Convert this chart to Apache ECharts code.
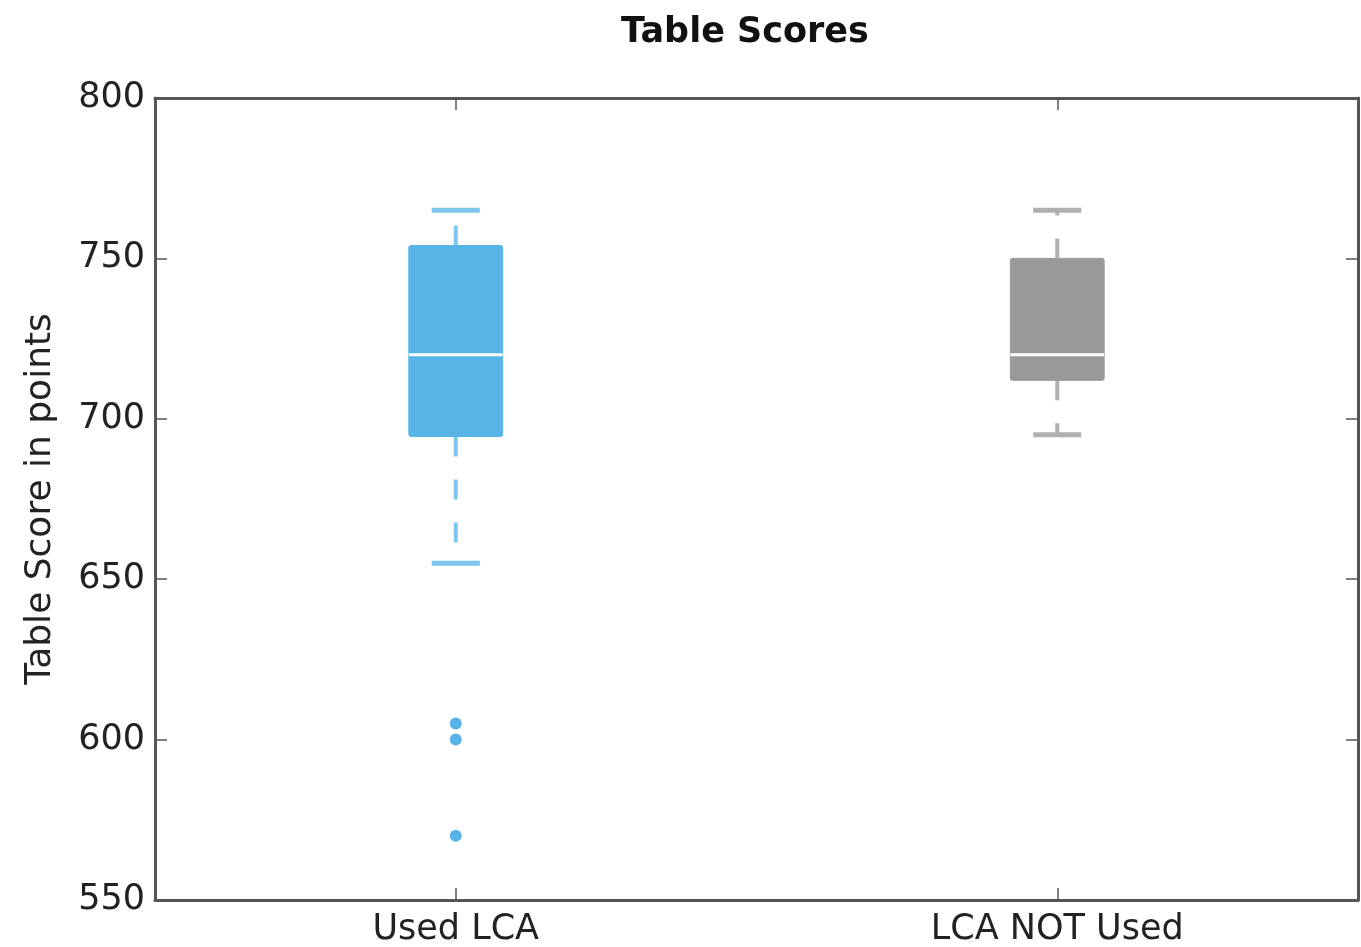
<!DOCTYPE html>
<html>
<head>
<meta charset="utf-8">
<script src="https://cdn.jsdelivr.net/npm/echarts@6/dist/echarts.min.js"></script>
<style>
html,body{margin:0;padding:0;background:#fff;}
#chart{width:1361px;height:947px;}
</style>
</head>
<body>
<div id="chart"></div>
<script>
// ---- data ----
const categories = ['Used LCA', 'LCA NOT Used'];
const whiskerLow = [655, 695];
const quartile1 = [694.5, 712];
const medians = [720, 720];
const quartile3 = [754, 750];
const whiskerHigh = [765, 765];
const outlierCategory = [0, 0, 0];
const outlierValues = [605, 600, 570];
const yTicks = [550, 600, 650, 700, 750, 800];

// ---- styles ----
const FONT = 'DejaVu Sans';
const boxColors = ['#56b4e7', '#999999'];
const whiskerColors = ['#7fc6ee', '#b0b0b0'];
const frameColor = '#555555';

const boxData = categories.map((c, i) => [i, whiskerLow[i], quartile1[i], medians[i], quartile3[i], whiskerHigh[i]]);
const outlierData = outlierValues.map((v, i) => [outlierCategory[i], v]);

const chart = echarts.init(document.getElementById('chart'), null, {renderer: 'canvas'});

function renderBox(params, api) {
  const i = params.dataIndex;
  const x = api.value(0);
  const pMin = api.coord([x, api.value(1)]);
  const pQ1 = api.coord([x, api.value(2)]);
  const pMed = api.coord([x, api.value(3)]);
  const pQ3 = api.coord([x, api.value(4)]);
  const pMax = api.coord([x, api.value(5)]);
  const band = api.size([1, 0])[0];
  const boxW = band * 0.156;
  const capW = band * 0.08;
  const cx = pMed[0];
  const wStyle = {stroke: whiskerColors[i], lineWidth: 4, lineDash: [20, 23]};
  const capStyle = {stroke: whiskerColors[i], lineWidth: 5};
  return {
    type: 'group',
    children: [
      {type: 'line', shape: {x1: cx, y1: pQ3[1], x2: cx, y2: pMax[1]}, style: wStyle},
      {type: 'line', shape: {x1: cx, y1: pQ1[1], x2: cx, y2: pMin[1]}, style: wStyle},
      {type: 'line', shape: {x1: cx - capW / 2, y1: pMax[1], x2: cx + capW / 2, y2: pMax[1]}, style: capStyle},
      {type: 'line', shape: {x1: cx - capW / 2, y1: pMin[1], x2: cx + capW / 2, y2: pMin[1]}, style: capStyle},
      {type: 'rect', shape: {x: cx - boxW / 2, y: pQ3[1], width: boxW, height: pQ1[1] - pQ3[1], r: 2},
        style: {fill: boxColors[i], stroke: boxColors[i], lineWidth: 1}},
      {type: 'line', shape: {x1: cx - boxW / 2, y1: pMed[1], x2: cx + boxW / 2, y2: pMed[1]},
        style: {stroke: '#ffffff', lineWidth: 3}}
    ]
  };
}

const yCommon = {
  type: 'value', min: 550, max: 800, interval: 50,
  splitLine: {show: false},
  axisLine: {show: true, lineStyle: {color: frameColor, width: 3}},
  axisTick: {show: true, inside: true, length: 12, lineStyle: {color: frameColor, width: 1.5}}
};
const xCommon = {
  type: 'category', data: categories, boundaryGap: true,
  splitLine: {show: false},
  axisLine: {show: true, lineStyle: {color: frameColor, width: 3}},
  axisTick: {show: true, inside: true, length: 12, alignWithLabel: true, lineStyle: {color: frameColor, width: 1.5}}
};

chart.setOption({
  animation: false,
  backgroundColor: '#ffffff',
  title: {
    text: 'Table Scores', left: 740, top: 10, textAlign: 'center',
    textStyle: {fontFamily: FONT, fontWeight: 'bold', fontSize: 35, color: '#111'}
  },
  grid: {left: 155, right: 3, top: 98, bottom: 47, containLabel: false},
  xAxis: [
    Object.assign({}, xCommon, {position: 'bottom',
      axisLabel: {show: true, margin: 12, fontFamily: FONT, fontSize: 35, color: '#222'}}),
    Object.assign({}, xCommon, {position: 'top', axisLabel: {show: false}})
  ],
  yAxis: [
    Object.assign({}, yCommon, {position: 'left',
      name: 'Table Score in points', nameLocation: 'middle', nameGap: 96, nameRotate: 90,
      nameTextStyle: {fontFamily: FONT, fontSize: 36, color: '#222'},
      axisLabel: {show: true, margin: 10, fontFamily: FONT, fontSize: 35, color: '#222',
        formatter: v => (yTicks.indexOf(v) >= 0 ? String(v) : '')}}),
    Object.assign({}, yCommon, {position: 'right', axisLabel: {show: false}})
  ],
  series: [
    {
      type: 'custom', xAxisIndex: 0, yAxisIndex: 0,
      renderItem: renderBox,
      encode: {x: 0, y: [1, 2, 3, 4, 5]},
      data: boxData,
      z: 2
    },
    {
      type: 'scatter', xAxisIndex: 0, yAxisIndex: 0,
      symbol: 'circle', symbolSize: 12,
      itemStyle: {color: boxColors[0], opacity: 1},
      data: outlierData,
      z: 3
    }
  ]
});
</script>
</body>
</html>
